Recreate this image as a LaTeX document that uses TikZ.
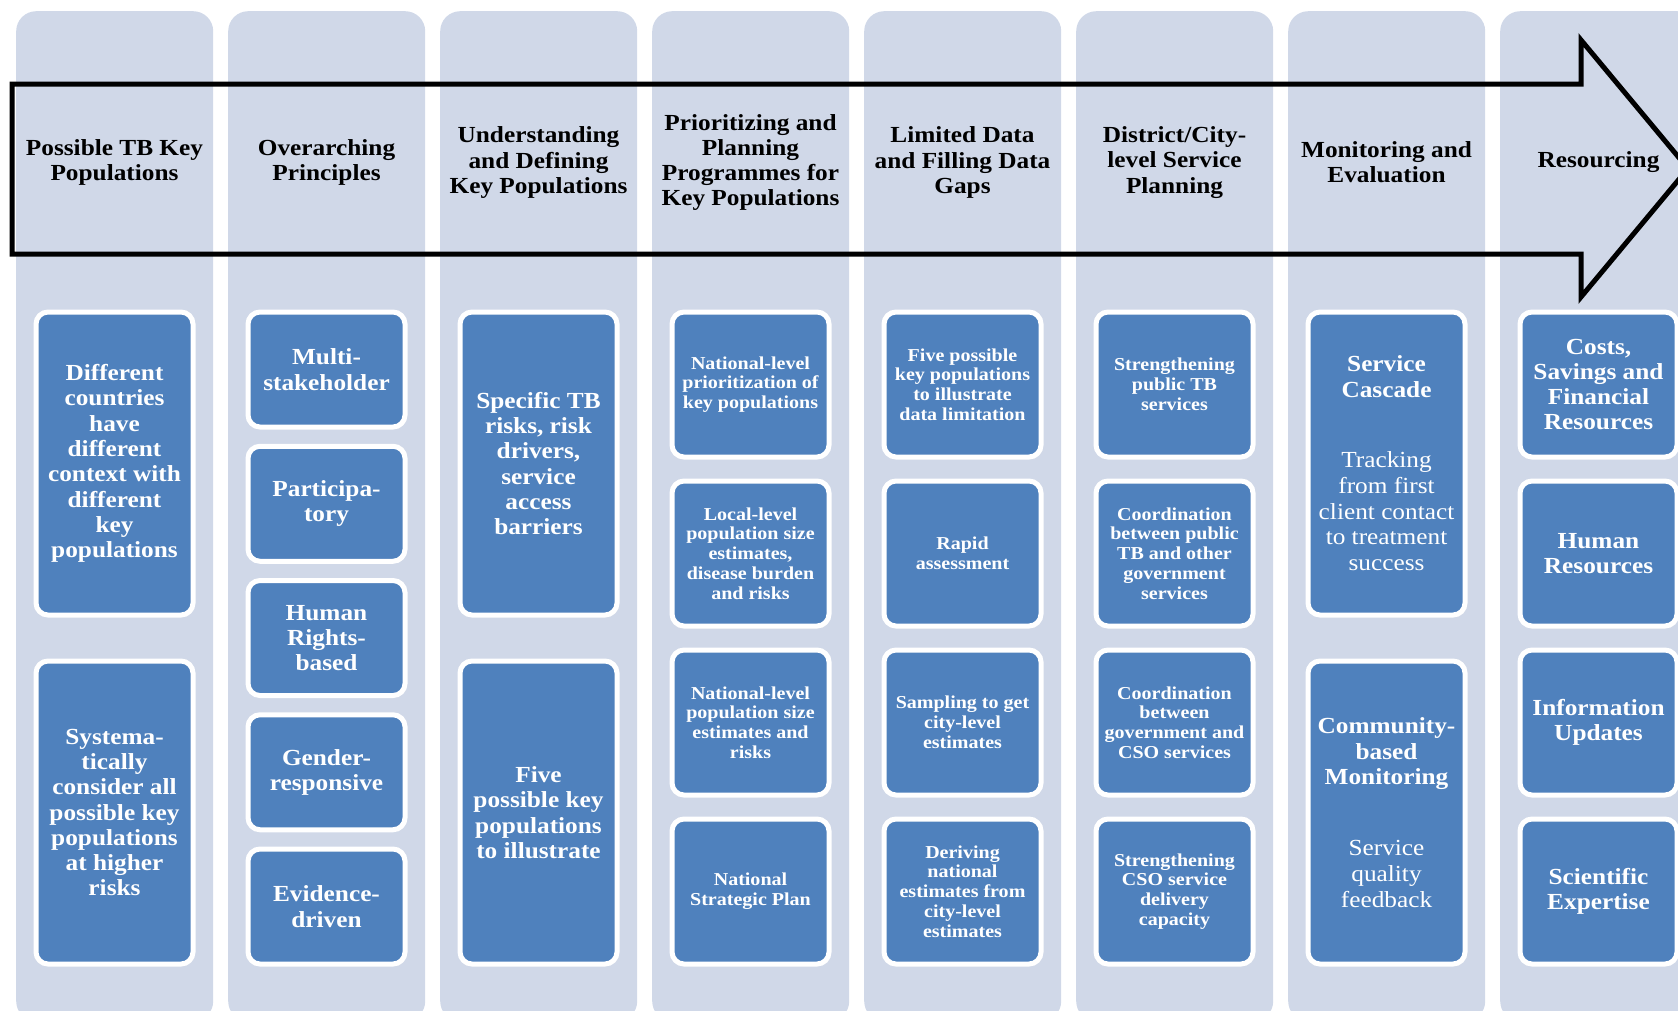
\documentclass[tikz,border=0pt]{standalone}
\usepackage{fontspec}
\setmainfont{Liberation Serif}[FakeStretch=1.1]
\definecolor{colbg}{RGB}{208,216,232}
\definecolor{boxblue}{RGB}{79,129,189}
\tikzset{
  colbox/.style={fill=colbg, rounded corners=20pt, minimum width=197pt, minimum height=1010pt, anchor=north west, inner sep=0pt},
  hdr/.style={font=\bfseries\fontsize{23}{25.3}\selectfont, align=center, text=black, inner sep=0pt},
  bbox/.style={draw=white, line width=5pt, fill=boxblue, rounded corners=12pt, text=white, align=center,
    font=\bfseries\fontsize{23}{25.3}\selectfont, minimum width=157pt, inner sep=0pt},
  sbox/.style={bbox, font=\bfseries\fontsize{18.2}{19.8}\selectfont},
  tallbox/.style={bbox, minimum height=303pt},
  fivebox/.style={bbox, minimum height=115pt},
  fourbox/.style={sbox, minimum height=145pt},
  fourboxbig/.style={bbox, minimum height=145pt},
  plainbox/.style={tallbox, font=\fontsize{23}{25.8}\selectfont},
  bigarrow/.style={draw=black, line width=5pt, miter limit=20}
}
\begin{document}
\begin{tikzpicture}[x=1pt,y=-1pt]
\useasboundingbox (0,0) rectangle (1678,1010);
\clip (0,0) rectangle (1678,1010);
% columns
\foreach \i in {0,...,7} {
  \node[colbox] (col\i) at ({16+212*\i},11) {};
}
% big arrow
\coordinate (atl) at (12,84);
\coordinate (asr) at (1581,84);
\coordinate (aht) at (1581,40);
\coordinate (atip) at (1688,168.5);
\coordinate (ahb) at (1581,297);
\coordinate (asb) at (1581,254);
\coordinate (abl) at (12,254);
\draw[bigarrow] (atl) -- (asr) -- (aht) -- (atip) -- (ahb) -- (asb) -- (abl) -- cycle;
% headers
\node[hdr] (h1) at (114.5,162.5) {Possible TB Key\\Populations};
\node[hdr] (h2) at (326.5,162.5) {Overarching\\Principles};
\node[hdr] (h3) at (538.5,162.5) {Understanding\\and Defining\\Key Populations};
\node[hdr] (h4) at (750.5,162.5) {Prioritizing and\\Planning\\Programmes for\\Key Populations};
\node[hdr] (h5) at (962.5,162.5) {Limited Data\\and Filling Data\\Gaps};
\node[hdr] (h6) at (1174.5,162.5) {District/City-\\level Service\\Planning};
\node[hdr] (h7) at (1386.5,162.5) {Monitoring and\\Evaluation};
\node[hdr] (h8) at (1598.5,162.5) {Resourcing};
% column 1
\node[tallbox] (c1a) at (114.5,463.5) {Different\\countries\\have\\different\\context with\\different\\key\\populations};
\node[tallbox] (c1b) at (114.5,812.5) {Systema-\\tically\\consider all\\possible key\\populations\\at higher\\risks};
% column 2
\node[fivebox] (c2a) at (326.5,369.5) {Multi-\\stakeholder};
\node[fivebox] (c2b) at (326.5,503.75) {Participa-\\tory};
\node[fivebox] (c2c) at (326.5,638) {Human\\Rights-\\based};
\node[fivebox] (c2d) at (326.5,772.25) {Gender-\\responsive};
\node[fivebox] (c2e) at (326.5,906.5) {Evidence-\\driven};
% column 3
\node[tallbox] (c3a) at (538.5,463.5) {Specific TB\\risks, risk\\drivers,\\service\\access\\barriers};
\node[tallbox] (c3b) at (538.5,812.5) {Five\\possible key\\populations\\to illustrate};
% column 4
\node[fourbox] (c4a) at (750.5,384.5) {National-level\\prioritization of\\key populations};
\node[fourbox] (c4b) at (750.5,553.5) {Local-level\\population size\\estimates,\\disease burden\\and risks};
\node[fourbox] (c4c) at (750.5,722.5) {National-level\\population size\\estimates and\\risks};
\node[fourbox] (c4d) at (750.5,891.5) {National\\Strategic Plan};
% column 5
\node[fourbox] (c5a) at (962.5,384.5) {Five possible\\key populations\\to illustrate\\data limitation};
\node[fourbox] (c5b) at (962.5,553.5) {Rapid\\assessment};
\node[fourbox] (c5c) at (962.5,722.5) {Sampling to get\\city-level\\estimates};
\node[fourbox] (c5d) at (962.5,891.5) {Deriving\\national\\estimates from\\city-level\\estimates};
% column 6
\node[fourbox] (c6a) at (1174.5,384.5) {Strengthening\\public TB\\services};
\node[fourbox] (c6b) at (1174.5,553.5) {Coordination\\between public\\TB and other\\government\\services};
\node[fourbox] (c6c) at (1174.5,722.5) {Coordination\\between\\government and\\CSO services};
\node[fourbox] (c6d) at (1174.5,891.5) {Strengthening\\CSO service\\delivery\\capacity};
% column 7
\node[plainbox] (c7a) at (1386.5,463.5) {\textbf{Service}\\\textbf{Cascade}\\[44pt]Tracking\\from first\\client contact\\to treatment\\success};
\node[plainbox] (c7b) at (1386.5,812.5) {\textbf{Community-}\\\textbf{based}\\\textbf{Monitoring}\\[45pt]Service\\quality\\feedback};
% column 8
\node[fourboxbig] (c8a) at (1598.5,384.5) {Costs,\\Savings and\\Financial\\Resources};
\node[fourboxbig] (c8b) at (1598.5,553.5) {Human\\Resources};
\node[fourboxbig] (c8c) at (1598.5,722.5) {Information\\Updates};
\node[fourboxbig] (c8d) at (1598.5,891.5) {Scientific\\Expertise};
\end{tikzpicture}
\end{document}
